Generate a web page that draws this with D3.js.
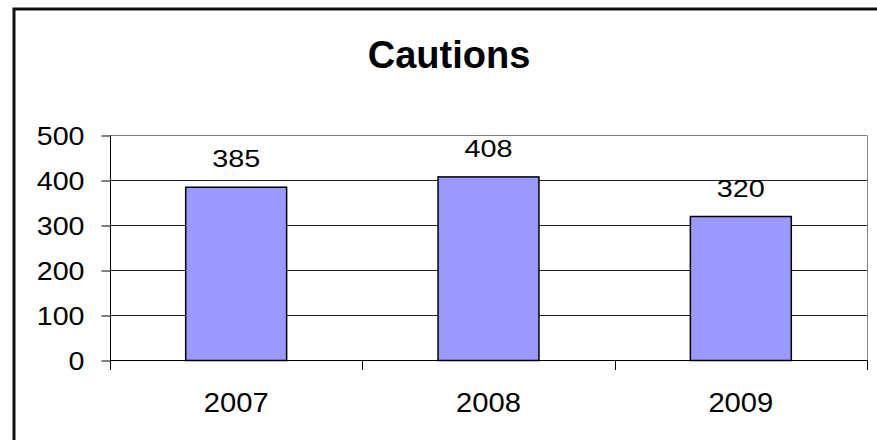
<!DOCTYPE html>
<html>
<head>
<meta charset="utf-8">
<script src="https://cdn.jsdelivr.net/npm/d3@7/dist/d3.min.js"></script>
<style>
  html, body { margin: 0; padding: 0; background: #fff; }
  svg { display: block; }
  text { font-family: Arial, "Liberation Sans", sans-serif; fill: #000; }
</style>
</head>
<body>
<svg id="chart" width="877" height="440"></svg>
<script>
const title = "Cautions";
const categories = ["2007", "2008", "2009"];
const values = [385, 408, 320];
const yTicks = [0, 100, 200, 300, 400, 500];

const svg = d3.select("#chart");
const W = 877, H = 440;
const plot = { left: 110, right: 867, top: 135.5, bottom: 360.5 };

svg.append("rect").attr("width", W).attr("height", H).attr("fill", "#fff");

// outer chart border (extends beyond the visible area on right/bottom)
svg.append("rect")
  .attr("x", 14).attr("y", 9).attr("width", 1000).attr("height", 1000)
  .attr("fill", "none").attr("stroke", "#111").attr("stroke-width", 3);

const x = d3.scaleBand().domain(categories)
  .range([plot.left, plot.right]).paddingInner(0.6).paddingOuter(0.3);
const y = d3.scaleLinear().domain([0, 500]).range([plot.bottom, plot.top]);

// gridlines
svg.append("g").selectAll("line").data(yTicks.filter(d => d > 0)).join("line")
  .attr("x1", plot.left).attr("x2", plot.right)
  .attr("y1", d => y(d)).attr("y2", d => y(d))
  .attr("stroke", d => d === 500 ? "#808080" : "#222").attr("stroke-width", 1);

// plot area right border (gray)
svg.append("line")
  .attr("x1", plot.right + 0.5).attr("x2", plot.right + 0.5)
  .attr("y1", plot.top).attr("y2", plot.bottom)
  .attr("stroke", "#808080").attr("stroke-width", 1);

// bars
svg.append("g").selectAll("rect").data(values).join("rect")
  .attr("x", (d, i) => x(categories[i]))
  .attr("y", d => y(d))
  .attr("width", x.bandwidth())
  .attr("height", d => plot.bottom - y(d))
  .attr("fill", "#9999FF").attr("stroke", "#000").attr("stroke-width", 1.5);

// y axis
const yAxis = d3.axisLeft(y).tickValues(yTicks).tickSize(9).tickPadding(17).tickFormat(d3.format("d"));
const gy = svg.append("g").attr("transform", `translate(${plot.left + 0.5},0)`).call(yAxis);
gy.select(".domain").attr("stroke", "#000").attr("d", `M0,${plot.top}V${plot.bottom}`);
gy.selectAll(".tick line").attr("stroke", "#000");
gy.selectAll(".tick text")
  .attr("font-size", 26.5).attr("font-family", "Arial, 'Liberation Sans', sans-serif")
  .attr("dy", "0.35em").attr("x", null)
  .attr("transform", "translate(-26,0) scale(1.08,1)");

// x axis with ticks at category boundaries
const xAxisG = svg.append("g").attr("transform", `translate(0,${plot.bottom})`);
xAxisG.append("line").attr("x1", plot.left).attr("x2", plot.right + 1)
  .attr("y1", 0).attr("y2", 0).attr("stroke", "#000").attr("stroke-width", 1);
const step = x.step();
const boundaries = d3.range(categories.length + 1).map(i => plot.left + i * step);
xAxisG.selectAll("line.tk").data(boundaries).join("line").attr("class", "tk")
  .attr("x1", d => Math.round(d) + 0.5).attr("x2", d => Math.round(d) + 0.5)
  .attr("y1", 0).attr("y2", 9.5).attr("stroke", "#000").attr("stroke-width", 1);
xAxisG.selectAll("text").data(categories).join("text")
  .attr("transform", d => `translate(${x(d) + x.bandwidth() / 2},51.5) scale(1.08,1)`)
  .attr("text-anchor", "middle").attr("font-size", 27)
  .text(d => d);

// data labels
svg.append("g").selectAll("text").data(values).join("text")
  .attr("transform", (d, i) => `translate(${x(categories[i]) + x.bandwidth() / 2},${y(d) - 20}) scale(1.2,1)`)
  .attr("text-anchor", "middle").attr("font-size", 24)
  .text(d => d);

// title
svg.append("text")
  .attr("x", 449).attr("y", 67.5)
  .attr("text-anchor", "middle").attr("font-size", 38).attr("font-weight", "bold")
  .text(title);
</script>
</body>
</html>
